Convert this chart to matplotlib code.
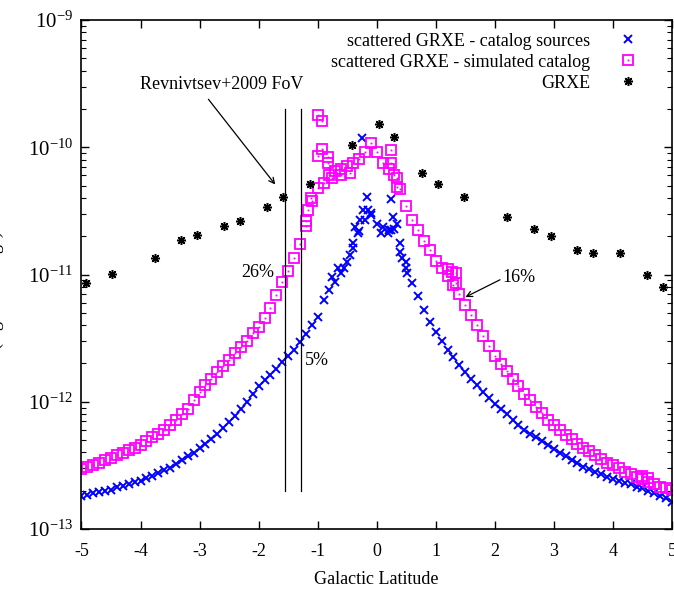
import numpy as np
import matplotlib
matplotlib.use('Agg')
import matplotlib.pyplot as plt

plt.rcParams['font.family'] = ['Liberation Serif', 'DejaVu Serif']
plt.rcParams['mathtext.fontset'] = 'custom'
plt.rcParams['mathtext.rm'] = 'Liberation Serif'
plt.rcParams['mathtext.it'] = 'Liberation Serif:italic'

# Galactic latitude grid (deg) for the two scattered-GRXE profiles
lat_grid = np.round(np.arange(-50, 51) / 10.0, 1)

# log10 surface brightness, scattered GRXE from catalog sources
cat_log10 = [
    -12.74, -12.73, -12.72, -12.71, -12.70, -12.69, -12.67, -12.66, -12.65, -12.63,
    -12.62, -12.60, -12.58, -12.56, -12.54, -12.52, -12.49, -12.46, -12.43, -12.40,
    -12.36, -12.33, -12.29, -12.25, -12.21, -12.16, -12.11, -12.06, -12.00, -11.94,
    -11.88, -11.83, -11.79, -11.74, -11.69, -11.64, -11.59, -11.53, -11.47, -11.40,
    -11.33, -11.20, -11.12, -11.06, -10.99, -10.90, -10.79, -10.66, -10.57, -10.52,
    -10.60, -10.63, -10.65, -10.64, -10.82, -10.95, -11.07, -11.17, -11.28, -11.37,
    -11.45, -11.52, -11.59, -11.65, -11.71, -11.77, -11.82, -11.87, -11.92, -11.97,
    -12.02, -12.06, -12.10, -12.14, -12.18, -12.22, -12.25, -12.28, -12.31, -12.34,
    -12.37, -12.40, -12.43, -12.46, -12.48, -12.51, -12.53, -12.55, -12.57, -12.59,
    -12.61, -12.62, -12.64, -12.65, -12.67, -12.68, -12.70, -12.72, -12.74, -12.76,
    -12.79,
]
# extra catalog-source points near the plane
cat_extra_lat = [-0.25, -0.17, 0.25, -0.24, -0.14, -0.09, -0.29, -0.37, -0.32, 0.27,
                 0.34, 0.25, 0.19, 0.08, 0.39, 0.42, 0.51, 0.50, -0.41, -0.45,
                 -0.55, -0.75, -0.65]
cat_extra_log10 = [-9.93, -10.39, -10.41, -10.49, -10.49, -10.53, -10.57, -10.63, -10.67, -10.55,
                   -10.60, -10.65, -10.67, -10.67, -10.75, -10.87, -10.99, -10.90, -10.75, -10.85,
                   -10.95, -11.02, -10.95]

# log10 surface brightness, scattered GRXE from the simulated catalog
sim_log10 = [
    -12.53, -12.51, -12.50, -12.48, -12.46, -12.44, -12.42, -12.40, -12.38, -12.36,
    -12.34, -12.31, -12.28, -12.25, -12.22, -12.18, -12.14, -12.10, -12.06, -11.99,
    -11.92, -11.87, -11.82, -11.77, -11.72, -11.67, -11.62, -11.57, -11.52, -11.46,
    -11.41, -11.34, -11.26, -11.16, -11.06, -10.97, -10.87, -10.76, -10.62, -10.42,
    -10.32, -10.28, -10.22, -10.19, -10.17, -10.15, -10.12, -10.09, -10.04, -9.97,
    -10.04, -10.12, -10.17, -10.22, -10.33, -10.46, -10.57, -10.65, -10.74, -10.81,
    -10.89, -10.95, -11.01, -11.08, -11.15, -11.24, -11.32, -11.40, -11.48, -11.56,
    -11.64, -11.70, -11.76, -11.82, -11.88, -11.94, -11.99, -12.04, -12.09, -12.14,
    -12.18, -12.22, -12.26, -12.29, -12.33, -12.36, -12.39, -12.42, -12.45, -12.48,
    -12.50, -12.52, -12.55, -12.57, -12.59, -12.61, -12.63, -12.65, -12.67, -12.68,
    -12.69,
]
sim_extra_lat = [-1.00, -0.92, -0.92, -1.00, -0.83, -0.83, -1.20, -1.12, -1.17, -0.75,
                 -0.60, -0.45, 0.25, 0.25, 0.34, 0.34, 1.27, 1.34, 1.34, 1.20,
                 4.50, 4.60]
sim_extra_log10 = [-9.75, -9.79, -10.01, -10.07, -10.08, -10.12, -10.58, -10.40, -10.49, -10.24,
                   -10.22, -10.20, -10.02, -10.12, -10.24, -10.31, -10.98, -10.99, -11.07, -10.96,
                   -12.58, -12.60]

# GRXE profile
grxe_lat = [-4.93, -4.49, -3.76, -3.32, -3.05, -2.59, -2.32, -1.86, -1.59, -1.13,
            -0.42, 0.03, 0.30, 0.76, 1.03, 1.47, 2.20, 2.66, 2.95, 3.39,
            3.66, 4.12, 4.57, 4.84]
grxe_flux = [8.6e-12, 1.01e-11, 1.35e-11, 1.87e-11, 2.04e-11, 2.40e-11, 2.63e-11, 3.39e-11, 4.06e-11, 5.14e-11,
             1.04e-10, 1.52e-10, 1.20e-10, 6.28e-11, 5.14e-11, 4.06e-11, 2.83e-11, 2.28e-11, 2.01e-11, 1.56e-11,
             1.48e-11, 1.48e-11, 9.9e-12, 7.98e-12]

# field-of-view boundaries
fov_lat = [-1.55, -1.28]
fov_range = [2e-13, 2e-10]

cat_x = np.concatenate([lat_grid, cat_extra_lat])
cat_y = 10.0 ** np.concatenate([cat_log10, cat_extra_log10])
sim_x = np.concatenate([lat_grid, sim_extra_lat])
sim_y = 10.0 ** np.concatenate([sim_log10, sim_extra_log10])

fig = plt.figure(figsize=(6.74, 5.92), dpi=100)
ax = fig.add_axes([0.1209, 0.1064, 0.8761, 0.8598])

h_cat, = ax.plot(cat_x, cat_y, ls='none', marker='x', ms=5.5, mew=1.4, color='#0000ff')
h_sim, = ax.plot(sim_x, sim_y, ls='none', marker='s', ms=6.5, mew=1.3, mfc='none', mec='#ff00ff')
h_dot, = ax.plot(sim_x, sim_y, ls='none', marker='s', ms=1.3, mew=0, color='#ff00ff')
h_grxe, = ax.plot(grxe_lat, grxe_flux, ls='none', marker=(8, 2, 0), ms=6.5, mew=1.1, color='black')

for xv in fov_lat:
    ax.plot([xv, xv], fov_range, color='black', lw=0.9)

ax.set_yscale('log')
ax.set_xlim(-5, 5)
ax.set_ylim(1e-13, 1e-9)
ax.set_xticks(range(-5, 6))
ax.set_xticklabels([str(v) for v in range(-5, 6)])
ax.tick_params(axis='both', which='both', direction='in', top=True, right=True)
ax.tick_params(axis='both', which='major', length=6, width=1.0)
ax.tick_params(axis='y', which='minor', length=3.5, width=0.8)
ax.tick_params(axis='x', labelsize=13, pad=10)
ax.tick_params(axis='y', labelsize=15, pad=6)
for sp in ax.spines.values():
    sp.set_linewidth(1.2)

ax.set_xlabel('Galactic Latitude', fontsize=13, labelpad=8)
ax.set_ylabel('(erg/s/cm$^2$/deg$^2$)', fontsize=13)
ax.yaxis.set_label_coords(-0.128, 0.47)

# annotations
ax.text(-2.62, 3.1e-10, 'Revnivtsev+2009 FoV', fontsize=13, ha='center', va='center')
ax.annotate('', xy=(-1.69, 4.9e-11), xytext=(-2.88, 2.48e-10),
            arrowprops=dict(arrowstyle='->', color='black', lw=0.9))
ax.text(-1.73, 1.04e-11, '26%', fontsize=13, ha='right', va='center')
ax.text(-1.22, 2.1e-12, '5%', fontsize=13, ha='left', va='center')
ax.text(2.12, 9.5e-12, '16%', fontsize=13, ha='left', va='center')
ax.annotate('', xy=(1.46, 6.5e-12), xytext=(2.13, 9.3e-12),
            arrowprops=dict(arrowstyle='->', color='black', lw=0.9))

ax.legend([h_cat, (h_sim, h_dot), h_grxe],
          ['scattered GRXE - catalog sources', 'scattered GRXE - simulated catalog', 'GRXE'],
          loc='upper right', markerfirst=False, frameon=False, fontsize=13,
          handlelength=1.0, handletextpad=1.6, labelspacing=0.22,
          borderaxespad=0.3, bbox_to_anchor=(0.962, 1.0))

fig.savefig('out.png', dpi=100)
